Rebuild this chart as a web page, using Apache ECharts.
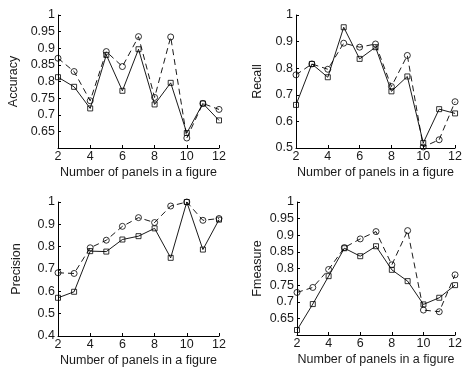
<!DOCTYPE html>
<html>
<head>
<meta charset="utf-8">
<script src="https://cdn.jsdelivr.net/npm/echarts@6/dist/echarts.min.js"></script>
<style>
  html, body { margin: 0; padding: 0; background: #fff; }
  #main { width: 465px; height: 370px; }
</style>
</head>
<body>
<div id="main"></div>
<script>
// number of panels in a figure
var panels = [2, 3, 4, 5, 6, 7, 8, 9, 10, 11, 12];

// solid line (squares) and dashed line (circles) for each measure
var accSolid  = [0.813, 0.784, 0.719, 0.880, 0.772, 0.897, 0.731, 0.796, 0.645, 0.734, 0.683];
var accDashed = [0.870, 0.830, 0.742, 0.890, 0.845, 0.935, 0.752, 0.934, 0.630, 0.734, 0.716];
var recSolid  = [0.662, 0.816, 0.766, 0.954, 0.835, 0.879, 0.713, 0.769, 0.519, 0.646, 0.630];
var recDashed = [0.775, 0.816, 0.796, 0.894, 0.879, 0.891, 0.731, 0.848, 0.504, 0.531, 0.674];
var preSolid  = [0.571, 0.598, 0.780, 0.778, 0.832, 0.847, 0.882, 0.750, 1.000, 0.787, 0.921];
var preDashed = [0.683, 0.680, 0.795, 0.829, 0.891, 0.930, 0.908, 0.982, 1.000, 0.918, 0.926];
var fmSolid   = [0.615, 0.693, 0.777, 0.861, 0.837, 0.867, 0.796, 0.762, 0.692, 0.712, 0.750];
var fmDashed  = [0.728, 0.743, 0.797, 0.863, 0.889, 0.911, 0.811, 0.914, 0.675, 0.670, 0.781];

var yNames = ['Accuracy', 'Recall', 'Precision', 'Fmeasure'];
var yMins = [0.6, 0.5, 0.4, 0.6];
var yIntervals = [0.05, 0.1, 0.1, 0.05];
var yHideMin = [true, false, false, true];
var yNameGaps = [38, 32, 35, 33];
var xLabel = 'Number of panels in a figure';

var font = '"Liberation Sans", Arial, sans-serif';
var textColor = '#1a1a1a';
var fs = 12.5;

function pairs(vals) {
    return panels.map(function (p, i) { return [p, vals[i]]; });
}

var grids = [
    { left: 58, top: 15, width: 161, height: 133 },
    { left: 296, top: 15, width: 162, height: 133 },
    { left: 58, top: 202, width: 161, height: 134 },
    { left: 297, top: 202, width: 161, height: 133 }
];

var xAxes = [], yAxes = [], series = [];
var sets = [[accSolid, accDashed], [recSolid, recDashed], [preSolid, preDashed], [fmSolid, fmDashed]];

for (var k = 0; k < 4; k++) {
    xAxes.push({
        gridIndex: k,
        type: 'value',
        min: 2, max: 12, interval: 2,
        name: xLabel,
        nameLocation: 'middle',
        nameGap: 18,
        nameTextStyle: { color: textColor, fontFamily: font, fontSize: fs, verticalAlign: 'top' },
        axisLine: { lineStyle: { color: '#000', width: 1 } },
        axisTick: { inside: true, length: 3, lineStyle: { color: '#000' } },
        axisLabel: { color: textColor, fontFamily: font, fontSize: fs, margin: 2 },
        splitLine: { show: false }
    });
    (function (k) {
        yAxes.push({
            gridIndex: k,
            type: 'value',
            min: yMins[k], max: 1, interval: yIntervals[k],
            name: yNames[k],
            nameLocation: 'middle',
            nameGap: yNameGaps[k],
            nameTextStyle: { color: textColor, fontFamily: font, fontSize: fs },
            axisLine: { show: true, lineStyle: { color: '#000', width: 1 } },
            axisTick: { show: true, inside: true, length: 3, lineStyle: { color: '#000' } },
            axisLabel: {
                color: textColor, fontFamily: font, fontSize: fs, margin: 3,
                formatter: function (v) {
                    if (yHideMin[k] && Math.abs(v - yMins[k]) < 1e-6) return '';
                    return String(+v.toFixed(2));
                }
            },
            splitLine: { show: false }
        });
    })(k);
    series.push({
        type: 'line',
        xAxisIndex: k, yAxisIndex: k,
        data: pairs(sets[k][0]),
        clip: false,
        symbol: 'rect',
        symbolSize: 5,
        lineStyle: { color: '#000', width: 0.9 },
        itemStyle: { color: 'transparent', borderColor: '#000', borderWidth: 0.8 },
        animation: false
    });
    series.push({
        type: 'line',
        xAxisIndex: k, yAxisIndex: k,
        data: pairs(sets[k][1]),
        clip: false,
        symbol: 'circle',
        symbolSize: 6,
        lineStyle: { color: '#000', width: 0.9, type: [6, 4] },
        itemStyle: { color: 'transparent', borderColor: '#000', borderWidth: 0.8 },
        animation: false
    });
}

var myChart = echarts.init(document.getElementById('main'));
myChart.setOption({
    backgroundColor: '#fff',
    animation: false,
    grid: grids,
    xAxis: xAxes,
    yAxis: yAxes,
    series: series
});
</script>
</body>
</html>
